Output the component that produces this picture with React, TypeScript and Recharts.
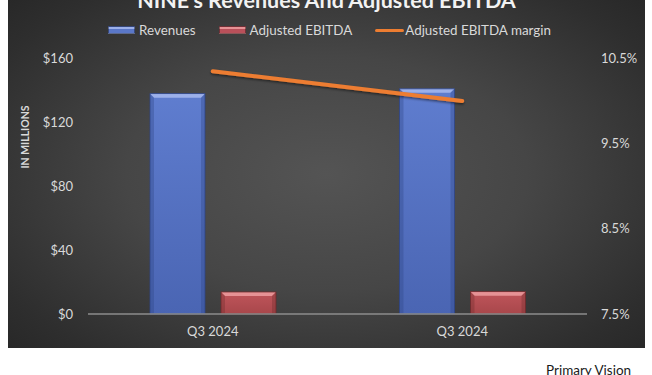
import React from 'react';
import {
  ComposedChart,
  Bar,
  Line,
  XAxis,
  YAxis,
  Legend,
  Label,
} from 'recharts';

const quarters = ['Q3 2024', 'Q3 2024'];
const revenues = [138, 141];
const adjEbitda = [13.8, 14];
const ebitdaMargin = [10.35, 10.0];
const leftTicks = [0, 40, 80, 120, 160];
const rightTicks = [7.5, 8.5, 9.5, 10.5];

const data = quarters.map((q, i) => ({
  quarter: q,
  revenues: revenues[i],
  ebitda: adjEbitda[i],
  margin: ebitdaMargin[i],
}));

const FONT = 'Lato, "Open Sans", sans-serif';
const TEXT = '#d9d9d9';

const makeBevelBar = (grad: string, light: string, dark: string) => (props: any) => {
  const { x, y, width, height } = props;
  if (!height || height <= 0) return null;
  const b = Math.min(4, height / 2);
  return (
    <g>
      <rect x={x} y={y} width={width} height={height} fill={`url(#${grad})`} />
      <polygon
        points={`${x},${y} ${x + width},${y} ${x + width - b},${y + b} ${x + b},${y + b}`}
        fill={light}
      />
      <polygon
        points={`${x},${y} ${x + b},${y + b} ${x + b},${y + height} ${x},${y + height}`}
        fill={dark}
        opacity={0.35}
      />
      <polygon
        points={`${x + width},${y} ${x + width - b},${y + b} ${x + width - b},${y + height} ${x + width},${y + height}`}
        fill={dark}
        opacity={0.35}
      />
      <rect x={x} y={y} width={width} height={height} fill="none" stroke={dark} strokeWidth={0.8} />
    </g>
  );
};

const RevenueBar = makeBevelBar('revGrad', '#9cb0ea', '#2f4585');
const EbitdaBar = makeBevelBar('ebGrad', '#e69295', '#6e2a2c');

const legendItems = [
  { label: 'Revenues', kind: 'bar', color: '#5a77c8', light: '#9cb0ea' },
  { label: 'Adjusted EBITDA', kind: 'bar', color: '#b9505a', light: '#e69295' },
  { label: 'Adjusted EBITDA margin', kind: 'line', color: '#ed7d31', light: '' },
];

const CustomLegend = () => (
  <div
    style={{
      display: 'flex',
      justifyContent: 'center',
      alignItems: 'center',
      gap: 23,
      fontFamily: FONT,
      fontSize: 13.4,
      color: TEXT,
      paddingLeft: 6,
    }}
  >
    {legendItems.map((item) => (
      <div key={item.label} style={{ display: 'flex', alignItems: 'center' }}>
        {item.kind === 'bar' ? (
          <span
            style={{
              display: 'inline-block',
              width: 25,
              height: 6,
              background: `linear-gradient(${item.light} 0 2px, ${item.color} 2px)`,
              marginRight: 4,
              border: '0.5px solid rgba(0,0,0,0.4)',
            }}
          />
        ) : (
          <span
            style={{
              display: 'inline-block',
              width: 29,
              height: 3,
              borderRadius: 2,
              background: item.color,
              marginRight: 1,
            }}
          />
        )}
        <span>{item.label}</span>
      </div>
    ))}
  </div>
);

export default function App() {
  return (
    <div
      style={{
        position: 'absolute',
        left: 0,
        top: 0,
        width: 652,
        height: 375,
        background: '#ffffff',
        overflow: 'hidden',
      }}
    >
      <div
        style={{
          position: 'absolute',
          left: 8,
          top: 0,
          width: 637,
          height: 348,
          background:
            'radial-gradient(ellipse 70% 75% at 50% 50%, #545454 0%, #464646 45%, #2e2e2e 85%, #272727 100%)',
        }}
      >
        <div
          style={{
            position: 'absolute',
            left: 0,
            width: 637,
            top: -12,
            textAlign: 'center',
            fontFamily: FONT,
            fontWeight: 700,
            fontSize: 21.5,
            color: '#f2f2f2',
            lineHeight: '25px',
          }}
        >
          NINE's Revenues And Adjusted EBITDA
        </div>
        <ComposedChart
          width={637}
          height={348}
          data={data}
          margin={{ top: 42.5, right: 8, left: 18, bottom: 4 }}
          barGap={16}
          style={{ fontFamily: FONT }}
        >
          <defs>
            <linearGradient id="revGrad" x1="0" y1="0" x2="0" y2="1">
              <stop offset="0%" stopColor="#5f7dcf" />
              <stop offset="100%" stopColor="#4a65b3" />
            </linearGradient>
            <linearGradient id="ebGrad" x1="0" y1="0" x2="0" y2="1">
              <stop offset="0%" stopColor="#c0555b" />
              <stop offset="100%" stopColor="#a8474b" />
            </linearGradient>
            <filter id="lineShadow" x="-10%" y="-50%" width="120%" height="200%">
              <feDropShadow dx="0" dy="1.5" stdDeviation="1.2" floodColor="#000" floodOpacity="0.5" />
            </filter>
          </defs>
          <Legend
            verticalAlign="top"
            content={<CustomLegend />}
            wrapperStyle={{ top: 22, left: 0, width: 637 }}
          />
          <XAxis
            dataKey="quarter"
            axisLine={{ stroke: '#8c8c8c', strokeWidth: 1.5 }}
            tickLine={false}
            tickMargin={7}
            height={30}
            tick={{ fill: TEXT, fontSize: 13, fontFamily: FONT }}
          />
          <YAxis
            yAxisId="left"
            domain={[0, 160]}
            ticks={leftTicks}
            tickFormatter={(v) => `$${v}`}
            axisLine={false}
            tickLine={false}
            tickMargin={9}
            width={62}
            tick={{ fill: TEXT, fontSize: 13, fontFamily: FONT }}
          >
            <Label
              content={() => (
                <text
                  x={16.5}
                  y={137}
                  transform="rotate(-90 16.5 137)"
                  textAnchor="middle"
                  dominantBaseline="central"
                  fill={TEXT}
                  fontSize={10.5}
                  fontWeight={700}
                  fontFamily={FONT}
                >
                  IN MILLIONS
                </text>
              )}
            />
          </YAxis>
          <YAxis
            yAxisId="right"
            orientation="right"
            domain={[7.5, 10.5]}
            ticks={rightTicks}
            tickFormatter={(v) => `${Number(v).toFixed(1)}%`}
            axisLine={false}
            tickLine={false}
            tickMargin={8}
            width={50}
            tick={{ fill: TEXT, fontSize: 13, fontFamily: FONT, textAnchor: 'start' }}
          />
          <Bar
            yAxisId="left"
            dataKey="revenues"
            name="Revenues"
            barSize={55}
            shape={RevenueBar}
            isAnimationActive={false}
          />
          <Bar
            yAxisId="left"
            dataKey="ebitda"
            name="Adjusted EBITDA"
            barSize={55}
            shape={EbitdaBar}
            isAnimationActive={false}
          />
          <Line
            yAxisId="right"
            dataKey="margin"
            name="Adjusted EBITDA margin"
            stroke="#ed7d31"
            strokeWidth={4}
            strokeLinecap="round"
            dot={false}
            activeDot={false}
            filter="url(#lineShadow)"
            isAnimationActive={false}
          />
        </ComposedChart>
      </div>
      <div
        style={{
          position: 'absolute',
          left: 546,
          top: 362,
          fontFamily: FONT,
          fontSize: 13.5,
          color: '#1a1a1a',
          lineHeight: '16px',
        }}
      >
        Primary Vision
      </div>
    </div>
  );
}
